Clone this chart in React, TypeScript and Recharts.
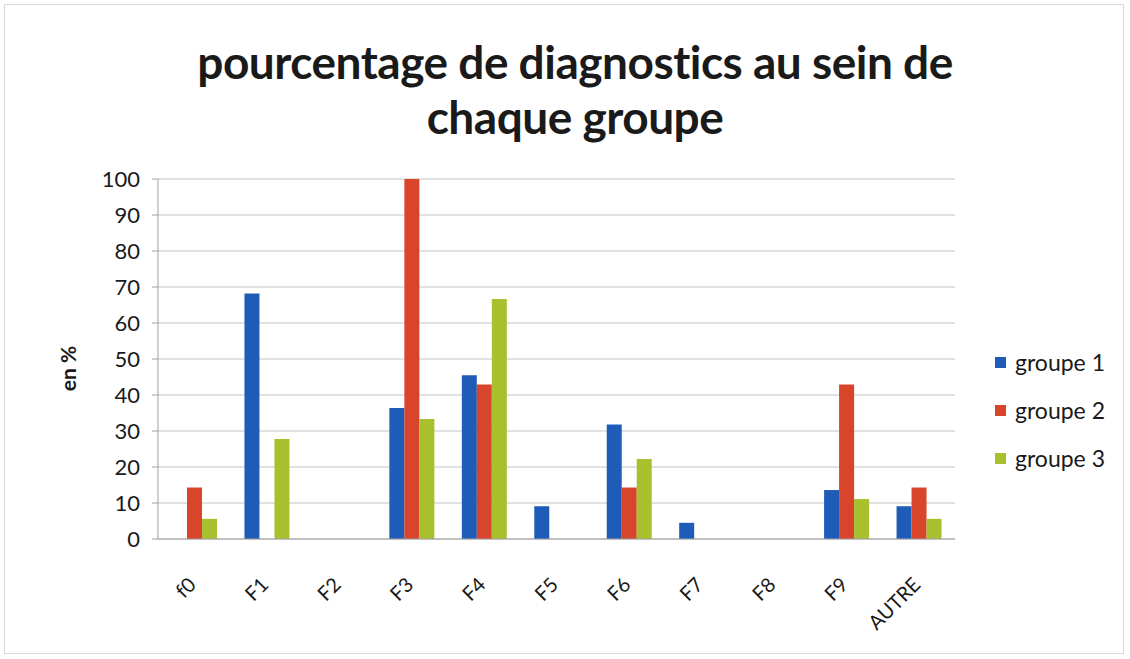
import React from 'react';
import { BarChart, Bar, XAxis, YAxis, CartesianGrid } from 'recharts';

const categories = ['f0', 'F1', 'F2', 'F3', 'F4', 'F5', 'F6', 'F7', 'F8', 'F9', 'AUTRE'];
const groupe1 = [0, 68.2, 0, 36.4, 45.5, 9.1, 31.8, 4.5, 0, 13.6, 9.1];
const groupe2 = [14.3, 0, 0, 100, 42.9, 0, 14.3, 0, 0, 42.9, 14.3];
const groupe3 = [5.6, 27.8, 0, 33.3, 66.7, 0, 22.2, 0, 0, 11.1, 5.6];
const yTicks = [0, 10, 20, 30, 40, 50, 60, 70, 80, 90, 100];

const series = [
    { key: 'g1', name: 'groupe 1', color: '#1e5cb8' },
    { key: 'g2', name: 'groupe 2', color: '#d8452a' },
    { key: 'g3', name: 'groupe 3', color: '#a8c02e' },
];

const data = categories.map((name, i) => ({
    name,
    g1: groupe1[i],
    g2: groupe2[i],
    g3: groupe3[i],
}));

const FONT = 'Lato, "Open Sans", sans-serif';

const styles = {
    page: {
        position: 'absolute',
        left: 0,
        top: 0,
        width: 1130,
        height: 659,
        background: '#fff',
        fontFamily: FONT,
    } as React.CSSProperties,
    frame: {
        position: 'absolute',
        left: 4,
        top: 4,
        width: 1120,
        height: 650,
        border: '1px solid #d8d8d8',
        boxSizing: 'border-box',
        pointerEvents: 'none',
    } as React.CSSProperties,
    title: {
        position: 'absolute',
        left: 0,
        top: 34,
        width: 1150,
        textAlign: 'center',
        fontSize: 46,
        fontWeight: 700,
        lineHeight: '55px',
        color: '#1a1a1a',
        letterSpacing: '-0.5px',
    } as React.CSSProperties,
    yLabel: {
        position: 'absolute',
        left: 45,
        top: 356,
        transform: 'rotate(-90deg)',
        fontSize: 21,
        fontWeight: 700,
        color: '#1a1a1a',
        whiteSpace: 'nowrap',
    } as React.CSSProperties,
    legend: {
        position: 'absolute',
        left: 995,
        top: 338,
    } as React.CSSProperties,
    legendRow: {
        display: 'flex',
        alignItems: 'center',
        height: 48,
        fontSize: 23,
        color: '#1a1a1a',
    } as React.CSSProperties,
};

const XTick = (props: any) => {
    const { x, y, payload } = props;
    return (
        <g transform={`translate(${x + 3},${y + 39})`}>
            <text textAnchor="end" transform="rotate(-45)" fontSize={20} fill="#1a1a1a" fontFamily={FONT}>
                {payload.value}
            </text>
        </g>
    );
};

export default function App() {
    return (
        <div style={styles.page}>
            <BarChart
                width={1130}
                height={659}
                data={data}
                margin={{ top: 179, right: 175, left: 0, bottom: 0 }}
                barGap={0}
                barSize={15}
            >
                <CartesianGrid vertical={false} stroke="#c4c4c4" />
                <XAxis
                    dataKey="name"
                    height={120}
                    axisLine={{ stroke: '#a0a0a0' }}
                    tickLine={false}
                    tick={<XTick />}
                    interval={0}
                />
                <YAxis
                    width={158}
                    domain={[0, 100]}
                    ticks={yTicks}
                    interval={0}
                    axisLine={{ stroke: '#a0a0a0' }}
                    tickLine={{ stroke: '#a0a0a0' }}
                    tickSize={6}
                    tickMargin={12}
                    tick={{ fontSize: 22, fill: '#1a1a1a', fontFamily: FONT }}
                />
                {series.map(s => (
                    <Bar key={s.key} dataKey={s.key} name={s.name} fill={s.color} isAnimationActive={false} />
                ))}
            </BarChart>
            <div style={styles.title}>
                pourcentage de diagnostics au sein de
                <br />
                chaque groupe
            </div>
            <div style={styles.yLabel}>en %</div>
            <div style={styles.legend}>
                {series.map(s => (
                    <div key={s.key} style={styles.legendRow}>
                        <span style={{ display: 'inline-block', width: 11, height: 11, background: s.color, marginRight: 9 }} />
                        {s.name}
                    </div>
                ))}
            </div>
            <div style={styles.frame} />
        </div>
    );
}
